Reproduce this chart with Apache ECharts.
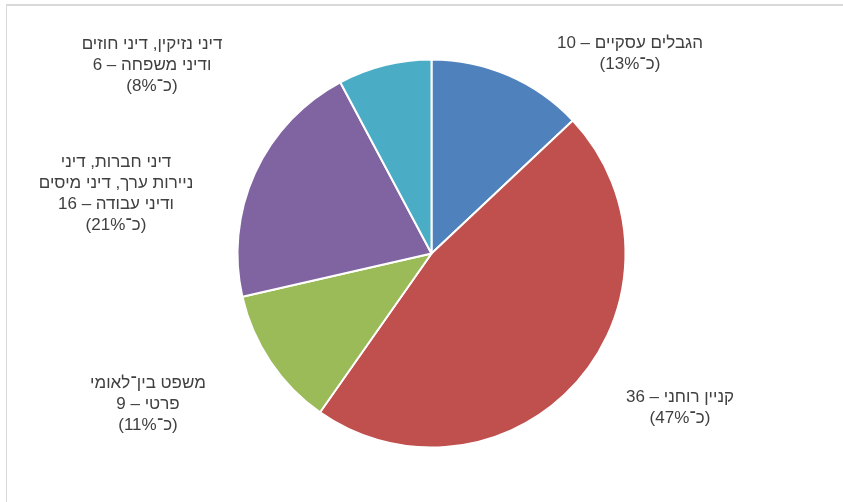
<!DOCTYPE html>
<html lang="he">
<head>
<meta charset="utf-8">
<script src="https://cdn.jsdelivr.net/npm/echarts@6/dist/echarts.min.js"></script>
<style>
  html, body { margin: 0; padding: 0; background: #ffffff; }
  #chart { width: 843px; height: 502px; direction: rtl; }
</style>
</head>
<body>
<div id="chart" dir="rtl"></div>
<script>
// Fields of law and the number of items in each
const categories = [
  'הגבלים עסקיים',
  'קניין רוחני',
  'משפט בין־לאומי\nפרטי',
  'דיני חברות, דיני\nניירות ערך, דיני מיסים\nודיני עבודה',
  'דיני נזיקין, דיני חוזים\nודיני משפחה'
];
const counts = [10, 36, 9, 16, 6];
const approxShares = ['13%', '47%', '11%', '21%', '8%'];
const sliceColors = ['#4F81BD', '#C0504D', '#9BBB59', '#8064A2', '#4BACC6'];

// Where each label block is centred (px)
const labelCentres = [
  [630, 54],
  [680, 408],
  [148, 404],
  [116, 194],
  [152, 65]
];

const seriesData = categories.map((name, i) => ({
  name: name,
  value: counts[i],
  share: approxShares[i],
  itemStyle: { color: sliceColors[i] }
}));

const chart = echarts.init(document.getElementById('chart'), null, { renderer: 'canvas' });
chart.setOption({
  backgroundColor: '#ffffff',
  animation: false,
  graphic: [
    { type: 'line', shape: { x1: 6, y1: 5, x2: 843, y2: 5 }, style: { stroke: '#d9d9d9', lineWidth: 2 } },
    { type: 'line', shape: { x1: 6.5, y1: 4, x2: 6.5, y2: 502 }, style: { stroke: '#d9d9d9', lineWidth: 1 } }
  ],
  series: [{
    type: 'pie',
    center: [431.5, 253.5],
    radius: [0, 194],
    startAngle: 90,
    clockwise: true,
    data: seriesData,
    itemStyle: { borderColor: '#ffffff', borderWidth: 2 },
    emphasis: { disabled: true },
    labelLine: { show: false },
    label: {
      show: true,
      position: 'outside',
      color: '#404040',
      fontFamily: 'Liberation Sans, Arial, sans-serif',
      fontSize: 17,
      lineHeight: 21,
      align: 'center',
      formatter: p => p.name + ' – ' + p.value + '\n(כ־' + p.data.share + ')'
    },
    labelLayout: params => {
      const c = labelCentres[params.dataIndex];
      return { x: c[0], y: c[1], align: 'center', verticalAlign: 'middle' };
    }
  }]
});
</script>
</body>
</html>
